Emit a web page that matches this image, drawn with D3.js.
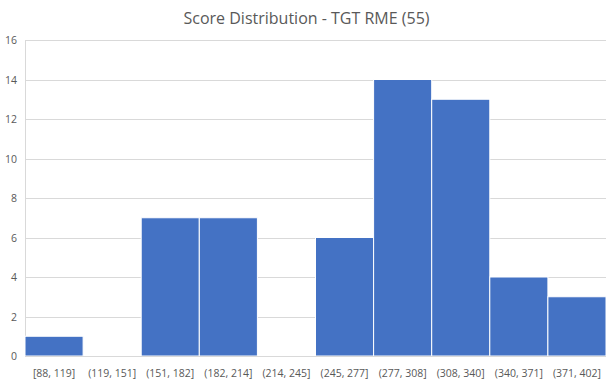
<!DOCTYPE html>
<html>
<head>
<meta charset="utf-8">
<script src="https://cdn.jsdelivr.net/npm/d3@7"></script>
<style>
  body { margin: 0; background: #fff; }
  text { font-family: "Open Sans", "Liberation Sans", sans-serif; }
</style>
</head>
<body>
<div id="chart"></div>
<script>
const categories = ["[88, 119]", "(119, 151]", "(151, 182]", "(182, 214]", "(214, 245]",
                    "(245, 277]", "(277, 308]", "(308, 340]", "(340, 371]", "(371, 402]"];
const counts = [1, 0, 7, 7, 0, 6, 14, 13, 4, 3];
const yTicks = [0, 2, 4, 6, 8, 10, 12, 14, 16];

const width = 613, height = 386;
const margin = {top: 40, right: 7, bottom: 30, left: 25};
const plotW = width - margin.left - margin.right;
const plotH = height - margin.top - margin.bottom;

let svg = d3.select("#chart")
    .append("svg")
    .attr("width", width)
    .attr("height", height);

let g = svg.append("g")
    .attr("transform", `translate(${margin.left}, ${margin.top})`);

let x = d3.scaleBand()
    .domain(categories)
    .range([0, plotW])
    .padding(0);

let y = d3.scaleLinear()
    .domain([0, 16])
    .range([plotH, 0]);

// gridlines
g.append("g")
    .selectAll("line")
    .data(yTicks)
    .enter()
    .append("line")
    .attr("x1", 0)
    .attr("x2", plotW)
    .attr("y1", d => Math.round(y(d)) + 0.5)
    .attr("y2", d => Math.round(y(d)) + 0.5)
    .attr("stroke", "#d9d9d9")
    .attr("stroke-width", 1);

// left axis line
g.append("line")
    .attr("x1", 0.5).attr("x2", 0.5)
    .attr("y1", 0).attr("y2", plotH)
    .attr("stroke", "#d9d9d9");

// y tick labels
g.append("g")
    .selectAll("text")
    .data(yTicks)
    .enter()
    .append("text")
    .attr("x", -8)
    .attr("y", d => y(d) + 4)
    .style("text-anchor", "end")
    .style("font-size", "10.5px")
    .attr("fill", "#595959")
    .text(d => d);

// bars
g.append("g")
    .selectAll("rect")
    .data(counts)
    .enter()
    .append("rect")
    .attr("x", (d, i) => x(categories[i]))
    .attr("y", d => y(d))
    .attr("width", x.bandwidth())
    .attr("height", d => plotH - y(d))
    .attr("fill", "#4472c4")
    .attr("stroke", "#ffffff")
    .attr("stroke-width", 1);

// baseline
g.append("line")
    .attr("x1", 0).attr("x2", plotW)
    .attr("y1", Math.round(plotH) + 0.5).attr("y2", Math.round(plotH) + 0.5)
    .attr("stroke", "#d9d9d9");

// x labels
g.append("g")
    .selectAll("text")
    .data(categories)
    .enter()
    .append("text")
    .attr("x", d => x(d) + x.bandwidth() / 2)
    .attr("y", plotH + 21)
    .style("text-anchor", "middle")
    .style("font-size", "10.5px")
    .attr("fill", "#595959")
    .text(d => d);

// title
svg.append("text")
    .attr("x", width / 2)
    .attr("y", 24)
    .style("text-anchor", "middle")
    .style("font-size", "16px")
    .attr("fill", "#595959")
    .text("Score Distribution - TGT RME (55)");
</script>
</body>
</html>
